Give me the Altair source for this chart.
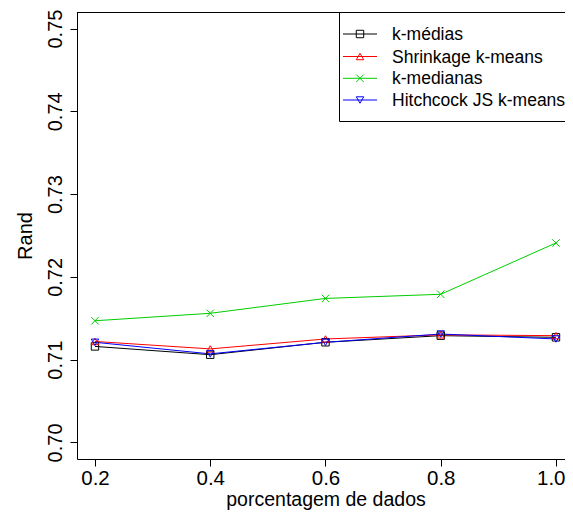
import altair as alt
import pandas as pd

# ---- data ----
x_vals = [0.2, 0.4, 0.6, 0.8, 1.0]
names = ["k-médias", "Shrinkage k-means", "k-medianas", "Hitchcock JS k-means"]
kmedias = [0.7116, 0.7106, 0.7121, 0.7129, 0.7127]
shrinkage = [0.7122, 0.7113, 0.7125, 0.7130, 0.7129]
kmedianas = [0.7147, 0.7156, 0.7174, 0.7179, 0.7241]
hitchcock = [0.7121, 0.7107, 0.7121, 0.7131, 0.7125]
x_ticks = [0.2, 0.4, 0.6, 0.8, 1.0]
y_ticks = [0.70, 0.71, 0.72, 0.73, 0.74, 0.75]

colors = ["#000000", "#FF0000", "#00CD00", "#0000FF"]
xshape = "M-1,-1L1,1M-1,1L1,-1"
shapes = ["square", "triangle-up", xshape, "triangle-down"]

series = [kmedias, shrinkage, kmedianas, hitchcock]
rows = []
for n, vals in zip(names, series):
    for xv, yv in zip(x_vals, vals):
        rows.append({"series": n, "x": xv, "y": yv})
df = pd.DataFrame(rows)

FONT = "Liberation Sans"
W, H = 488, 447

xscale = alt.Scale(domain=[0.1688, 0.1688 + W / 576.25], nice=False, zero=False)
yscale = alt.Scale(domain=[0.698, 0.752], nice=False, zero=False)

xenc = alt.X(
    "x:Q", scale=xscale,
    axis=alt.Axis(
        values=x_ticks, format=".1f", tickSize=7, labelFontSize=20.5, labelPadding=2,
        labelFont=FONT, labelColor="#000000", domainColor="#000000", tickColor="#000000",
        grid=False, labelFlush=10, labelFlushOffset=9, labelOverlap=False,
        title="porcentagem de dados", titleFont=FONT, titleFontSize=19.5,
        titleFontWeight="normal", titleColor="#000000",
        titleX=248.5, titleY=46.5, titleBaseline="alphabetic", titleAlign="center",
    ),
)
yenc = alt.Y(
    "y:Q", scale=yscale,
    axis=alt.Axis(
        values=y_ticks, format=".2f", tickSize=7, labelFontSize=20, labelPadding=9,
        labelAngle=270, labelAlign="center", labelBaseline="alphabetic",
        labelFont=FONT, labelColor="#000000", domainColor="#000000", tickColor="#000000",
        grid=False, labelFlush=False, labelOverlap=False,
        title="Rand", titleFont=FONT, titleFontSize=20, titleFontWeight="normal",
        titleColor="#000000", titleAngle=270, titleX=-46, titleY=223.5,
        titleBaseline="alphabetic", titleAlign="center",
    ),
)

color = alt.Color("series:N", scale=alt.Scale(domain=names, range=colors), legend=None)
shape = alt.Shape("series:N", scale=alt.Scale(domain=names, range=shapes), legend=None)

lines = alt.Chart(df).mark_line(strokeWidth=1).encode(
    x=xenc, y=yenc, color=color, detail="series:N",
    order=alt.Order("x:Q"),
)
points = alt.Chart(df).mark_point(filled=False, size=55, strokeWidth=1, opacity=1).encode(
    x="x:Q", y="y:Q", color=color, shape=shape,
)

one = pd.DataFrame({"a": [0]})
top_border = alt.Chart(one).mark_rule(color="#000000", strokeWidth=1).encode(
    x=alt.value(0), x2=alt.value(W), y=alt.value(0.5)
)

# legend (manual, mimicking R's legend box, which runs past the right edge)
LX, LB = 262.5, 109.5
leg_layers = [
    alt.Chart(one).mark_rule(color="#000000", strokeWidth=1).encode(
        x=alt.value(LX), y=alt.value(0), y2=alt.value(LB)
    ),
    alt.Chart(one).mark_rule(color="#000000", strokeWidth=1).encode(
        x=alt.value(LX), x2=alt.value(W), y=alt.value(LB)
    ),
]
entry_y = [22, 44.5, 66.3, 88]
for n, c, s, ey in zip(names, colors, shapes, entry_y):
    leg_layers.append(
        alt.Chart(one).mark_rule(color=c, strokeWidth=1).encode(
            x=alt.value(266), x2=alt.value(300), y=alt.value(ey)
        )
    )
    leg_layers.append(
        alt.Chart(one).mark_point(shape=s, filled=False, size=55, strokeWidth=1,
                                  color=c, opacity=1).encode(
            x=alt.value(283), y=alt.value(ey)
        )
    )
    leg_layers.append(
        alt.Chart(one).mark_text(text=n, font=FONT, fontSize=17.5, color="#000000",
                                 align="left", baseline="middle").encode(
            x=alt.value(315), y=alt.value(ey + 1)
        )
    )

chart = alt.layer(lines, points, top_border, *leg_layers).properties(
    width=W, height=H,
    padding={"left": 69, "top": 4, "right": 0, "bottom": 51},
    autosize=alt.AutoSizeParams(type="none"),
    background="#FFFFFF",
).configure_view(stroke=None)

chart.save("out.html", embed_options={"renderer": "svg", "actions": False})
